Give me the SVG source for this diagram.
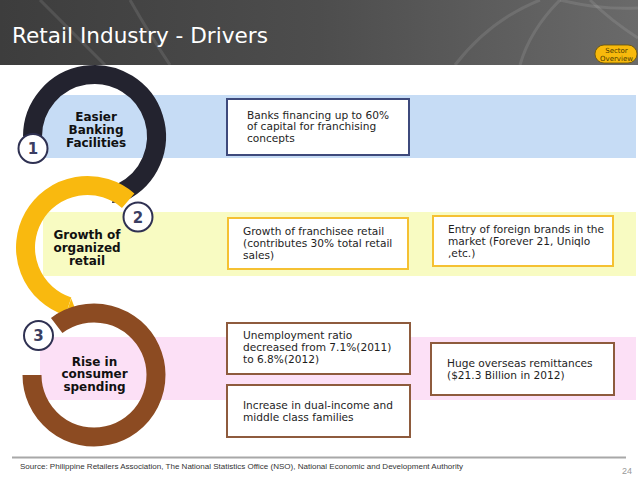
<svg xmlns="http://www.w3.org/2000/svg" width="638" height="479" viewBox="0 0 638 479">
<defs>
<linearGradient id="hdr" x1="0" y1="0" x2="1" y2="0">
<stop offset="0" stop-color="#3d3d3d"/>
<stop offset="0.5" stop-color="#4d4d4d"/>
<stop offset="1" stop-color="#6a6a6a"/>
</linearGradient>
<style>
.body{font-family:"DejaVu Sans",Verdana,sans-serif;font-size:10.6px;fill:#1e1e1e}
.lbl{font-family:"DejaVu Sans",Verdana,sans-serif;font-size:12px;font-weight:bold;fill:#111;text-anchor:middle}
.num{font-family:"DejaVu Sans",Verdana,sans-serif;font-size:15px;font-weight:bold;fill:#3b3e62;text-anchor:middle}
.badge{fill:#fff;stroke:#2f3152;stroke-width:2}
.box{fill:#fff;stroke-width:2}
.ring{fill:none;stroke-width:19}
.deco{fill:none;stroke:#fff;stroke-opacity:0.1;stroke-width:3}
</style>
</defs>
<rect width="638" height="479" fill="#fff"/>
<g id="header">
<rect x="0" y="0" width="638" height="65" fill="url(#hdr)"/>
<path class="deco" d="M40 0 Q70 30 105 65"/>
<path class="deco" d="M130 0 Q150 35 170 65"/>
<path class="deco" d="M455 65 Q490 20 540 0"/>
<path class="deco" d="M520 65 Q530 30 560 0"/>
<path class="deco" d="M590 0 Q610 20 638 38"/>
<path class="deco" d="M560 0 Q600 10 638 8"/>
<text x="12" y="43" font-family="'DejaVu Sans',Verdana,sans-serif" font-size="21.6" fill="#fff">Retail Industry - Drivers</text>
</g>
<g id="sector-overview">
<rect x="595" y="45" width="42" height="18" rx="9" fill="#f7b90c" stroke="#6b5300" stroke-width="0.8"/>
<text x="616.5" y="53" font-family="'DejaVu Sans',sans-serif" font-size="7" fill="#4a3a00" text-anchor="middle">Sector</text>
<text x="616.5" y="60.5" font-family="'DejaVu Sans',sans-serif" font-size="7" fill="#4a3a00" text-anchor="middle">Overview</text>
</g>
<g id="bands">
<rect x="40" y="95" width="596" height="63" fill="#c6dcf5"/>
<rect x="43" y="212" width="593" height="64" fill="#f8fbc2"/>
<rect x="40" y="337" width="596" height="63" fill="#fce0f6"/>
</g>
<g id="connectors">
<path class="ring" stroke="#23232f" d="M32.5 136.5 A62 62 0 1 1 121.68 192.22"/>
<polygon fill="#23232f" points="117.3,183.2 126.1,201.2 112,203"/>
<path class="ring" stroke="#f9b90f" d="M128.18 200.71 A62 62 0 1 0 68.34 306.47"/>
<polygon fill="#f9b90f" points="71.2,298.5 65.25,315.98 76,311"/>
<path class="ring" stroke="#8c4b22" d="M32 375 A62 62 0 1 0 56.69 325.49"/>
</g>
<g id="node-1">
<text class="lbl" x="96" y="121">Easier</text>
<text class="lbl" x="96" y="133.7">Banking</text>
<text class="lbl" x="96" y="146.5">Facilities</text>
<circle class="badge" cx="33" cy="148.5" r="14.5"/>
<text class="num" x="33" y="154">1</text>
</g>
<g id="node-2">
<text class="lbl" x="87" y="239.3">Growth of</text>
<text class="lbl" x="87" y="252">organized</text>
<text class="lbl" x="87" y="264.5">retail</text>
<circle class="badge" cx="138" cy="217" r="14.5"/>
<text class="num" x="138" y="222.5">2</text>
</g>
<g id="node-3">
<text class="lbl" x="94.5" y="365.8">Rise in</text>
<text class="lbl" x="94.5" y="378.4">consumer</text>
<text class="lbl" x="94.5" y="391.4">spending</text>
<circle class="badge" cx="38.5" cy="335.5" r="14.5"/>
<text class="num" x="38.5" y="341">3</text>
</g>
<g id="box-banks">
<rect class="box" x="227" y="99" width="182" height="56" stroke="#3e4a7c"/>
<text class="body" x="247" y="118.5">Banks financing up to 60%</text>
<text class="body" x="247" y="130">of capital for franchising</text>
<text class="body" x="247" y="141.5">concepts</text>
</g>
<g id="box-franchisee">
<rect class="box" x="228" y="218" width="180" height="51" stroke="#f5c132"/>
<text class="body" x="243" y="235">Growth of franchisee retail</text>
<text class="body" x="243" y="247">(contributes 30% total retail</text>
<text class="body" x="243" y="258.5">sales)</text>
</g>
<g id="box-foreign">
<rect class="box" x="433" y="216" width="180" height="50" stroke="#f5c132"/>
<text class="body" x="448" y="233">Entry of foreign brands in the</text>
<text class="body" x="448" y="245">market (Forever 21, Uniqlo</text>
<text class="body" x="448" y="256.5">,etc.)</text>
</g>
<g id="box-unemployment">
<rect class="box" x="227" y="323" width="183" height="51" stroke="#8e5b3d"/>
<text class="body" x="243" y="338.5">Unemployment ratio</text>
<text class="body" x="243" y="350.8">decreased from 7.1%(2011)</text>
<text class="body" x="243" y="363">to 6.8%(2012)</text>
</g>
<g id="box-dual-income">
<rect class="box" x="227" y="385" width="183" height="52" stroke="#8e5b3d"/>
<text class="body" x="243" y="408.5">Increase in dual-income and</text>
<text class="body" x="243" y="421">middle class families</text>
</g>
<g id="box-remittances">
<rect class="box" x="431" y="343" width="183" height="52" stroke="#8e5b3d"/>
<text class="body" x="447" y="366.5">Huge overseas remittances</text>
<text class="body" x="447" y="378.5">($21.3 Billion in 2012)</text>
</g>
<g id="footer">
<line x1="12" y1="457.5" x2="626" y2="457.5" stroke="#a8a8a8" stroke-width="2"/>
<text x="20" y="469" font-family="'Liberation Sans',Arial,sans-serif" font-size="7.6" fill="#333" textLength="443" lengthAdjust="spacingAndGlyphs">Source: Philippine Retailers Association, The National Statistics Office (NSO), National Economic and Development Authority</text>
<text x="632" y="474" font-family="'Liberation Sans',Arial,sans-serif" font-size="9" fill="#999" text-anchor="end">24</text>
</g>
</svg>
